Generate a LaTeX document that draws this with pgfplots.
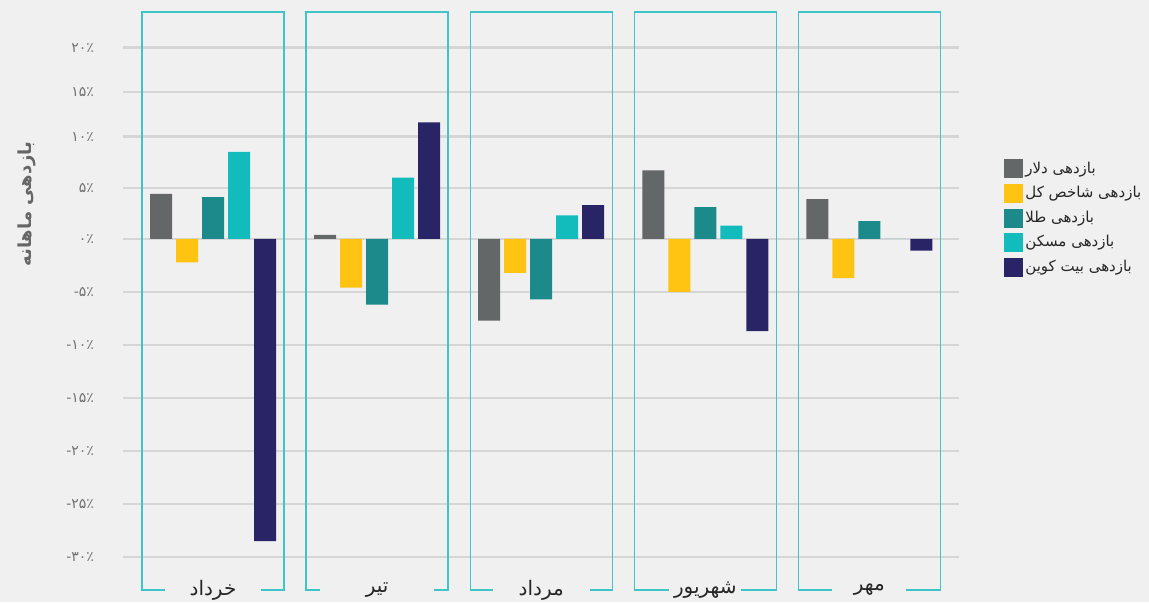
\documentclass[border=0pt]{standalone}
\usepackage{fontspec}
\setmainfont{DejaVu Sans}
\newfontfamily\arabicfont[Script=Arabic]{DejaVu Sans}
\usepackage{pgfplots}
\pgfplotsset{compat=1.18}
\TeXXeTstate=1

\definecolor{bgc}{HTML}{F0F0F0}
\definecolor{gridc}{HTML}{D6D6D6}
\definecolor{boxc}{HTML}{3FC5C8}
\definecolor{tickc}{HTML}{707070}
\definecolor{ylabc}{HTML}{666666}
\definecolor{cdollar}{HTML}{636767}
\definecolor{cindex}{HTML}{FFC312}
\definecolor{cgold}{HTML}{1C8A8A}
\definecolor{chouse}{HTML}{13BCBC}
\definecolor{cbtc}{HTML}{292466}

\newcommand{\fa}[1]{{\arabicfont\beginR #1\endR}}
\newcommand{\mn}{\hbox{-}}
% box around one month: left, right, centre, label, width of the gap in the bottom edge
\newcommand{\monthbox}[5]{%
  \draw[boxc, line width=0.7pt] ({axis cs:#1,0}|-{rel axis cs:0,0}) rectangle ({axis cs:#2,0}|-{rel axis cs:0,1});
  \node[fill=bgc, inner sep=0pt, minimum width=#5, minimum height=5pt,
        font=\fontsize{10}{12}\selectfont, text=black!85] at ({axis cs:#3,0}|-{rel axis cs:0,0}) {\fa{#4}};
}

\begin{document}
\begin{tikzpicture}
\fill[bgc] (0,0) rectangle (574.5pt,301pt);
\path[use as bounding box] (0,0) rectangle (574.5pt,301pt);
\begin{axis}[
  at={(61.5pt,6pt)}, anchor=south west,
  scale only axis, width=418pt, height=289pt,
  xmin=-0.5485, xmax=4.546,
  ymin=-33.11, ymax=24,
  y coord trafo/.code={\pgfmathparse{(#1>10)?(9.651+0.8396*(#1-10)):((#1>0)?(0.9651*#1):(#1))}},
  y coord inv trafo/.code={\pgfmathparse{(#1>9.651)?(10+(#1-9.651)/0.8396):((#1>0)?(#1/0.9651):(#1))}},
  ybar=2pt, bar width=11pt,
  axis line style={draw=none},
  major tick length=0pt,
  xtick=\empty,
  ytick={-30,-25,-20,-15,-10,-5,0,5,10,15,20},
  yticklabels={\mn۳۰٪,\mn۲۵٪,\mn۲۰٪,\mn۱۵٪,\mn۱۰٪,\mn۵٪,۰٪,۵٪,۱۰٪,۱۵٪,۲۰٪},
  yticklabel style={font=\arabicfont\fontsize{7}{8}\selectfont, text=tickc, xshift=-11pt},
  ymajorgrids, grid style={gridc, line width=1.15pt},
  ylabel={\arabicfont\beginR بازدهی ماهانه\endR},
  ylabel style={at={(rel axis cs:-0.1148,0.6678)}, anchor=center,
    font=\bfseries\fontsize{9}{11}\selectfont, text=ylabc},
  legend style={draw=none, fill=none, at={(rel axis cs:1.0538,0.7457)}, anchor=north west,
    inner sep=0pt, row sep=2.8pt, font=\fontsize{7.5}{9}\selectfont, text=black!85,
    nodes={inner sep=1pt}},
  legend cell align=left,
  every axis plot/.append style={draw=none,
    legend image code/.code={\fill[#1] (0pt,-4.75pt) rectangle (9.5pt,4.75pt);}},
  clip=false,
]
% months: 0 khordad, 1 tir, 2 mordad, 3 shahrivar, 4 mehr
\addplot[fill=cdollar] coordinates {(0,4.4) (1,0.4) (2,-7.7) (3,6.7) (4,3.9)};
\addlegendentry{\fa{بازدهی دلار}}
\addplot[fill=cindex] coordinates {(0,-2.2) (1,-4.6) (2,-3.2) (3,-5.0) (4,-3.7)};
\addlegendentry{\fa{بازدهی شاخص کل}}
\addplot[fill=cgold] coordinates {(0,4.1) (1,-6.2) (2,-5.7) (3,3.1) (4,1.75)};
\addlegendentry{\fa{بازدهی طلا}}
\addplot[fill=chouse] coordinates {(0,8.5) (1,6.0) (2,2.3) (3,1.3) (4,0)};
\addlegendentry{\fa{بازدهی مسکن}}
\addplot[fill=cbtc] coordinates {(0,-28.5) (1,11.6) (2,3.3) (3,-8.7) (4,-1.1)};
\addlegendentry{\fa{بازدهی بیت کوین}}

\monthbox{-0.4327}{0.4327}{0}{خرداد}{48pt}
\monthbox{0.5673}{1.4327}{1}{تیر}{57pt}
\monthbox{1.5673}{2.4327}{2}{مرداد}{48.5pt}
\monthbox{2.5673}{3.4327}{3}{شهریور}{36pt}
\monthbox{3.5673}{4.4327}{4}{مهر}{37pt}
\end{axis}
\end{tikzpicture}
\end{document}
